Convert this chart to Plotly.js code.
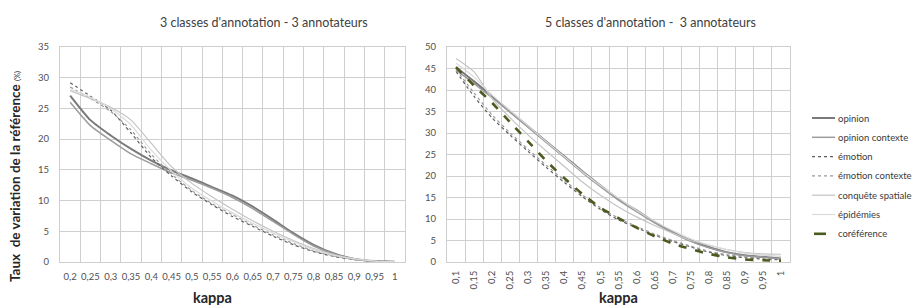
<!DOCTYPE html>
<html>
<head>
<meta charset="utf-8">
<script src="https://cdn.plot.ly/plotly-3.0.1.min.js"></script>
<style>html,body{margin:0;padding:0;background:#fff;}#chart{width:914px;height:305px;}</style>
</head>
<body>
<div id="chart"></div>
<script>
// ---- data ----
const kappaLeft = ["0,2","0,25","0,3","0,35","0,4","0,45","0,5","0,55","0,6","0,65","0,7","0,75","0,8","0,85","0,9","0,95","1"];
const kappaRight = ["0,1","0,15","0,2","0,25","0,3","0,35","0,4","0,45","0,5","0,55","0,6","0,65","0,7","0,75","0,8","0,85","0,9","0,95","1"];

// 3 classes - 3 annotateurs
const L_opinion          = [27.1,23.1,20.6,18.4,16.5,14.9,13.6,12.2,10.8,9.0,6.9,4.7,2.8,1.4,0.5,0.15,0.05];
const L_opinionContexte  = [26.0,22.2,19.8,17.6,16.0,14.5,13.3,12.0,10.5,8.7,6.6,4.5,2.6,1.3,0.5,0.15,0.05];
const L_emotion          = [29.2,27.0,24.7,21.0,17.0,14.0,11.4,9.3,7.4,5.8,4.2,2.8,1.7,0.9,0.4,0.15,0.05];
const L_emotionContexte  = [28.5,26.6,24.5,21.5,17.5,14.3,11.6,9.5,7.7,6.0,4.4,3.0,1.8,1.0,0.45,0.15,0.05];
const L_conquete         = [27.9,26.6,25.2,23.1,19.3,15.5,12.8,10.6,8.6,6.7,5.0,3.5,2.2,1.2,0.5,0.15,0.05];
const L_epidemies        = [28.2,26.8,25.0,22.3,18.2,14.8,12.0,9.9,8.0,6.3,4.7,3.3,2.0,1.1,0.5,0.15,0.05];

// 5 classes - 3 annotateurs
const R_opinion          = [45.3,42.0,38.5,35.0,31.5,28.0,24.6,21.1,17.8,14.6,12.0,9.3,7.0,5.0,3.5,2.3,1.55,1.2,0.8];
const R_opinionContexte  = [44.6,41.5,38.2,34.8,31.3,27.8,24.3,20.8,17.5,14.4,11.7,9.1,6.8,4.8,3.3,2.2,1.45,1.1,0.7];
const R_emotion          = [44.3,38.5,33.5,29.5,25.7,22.0,18.5,15.2,12.2,9.8,8.0,6.2,4.8,3.5,2.3,1.5,1.0,0.7,0.5];
const R_emotionContexte  = [44.8,39.3,34.2,30.0,26.2,22.5,19.0,15.6,12.6,10.2,8.3,6.5,5.0,3.7,2.5,1.7,1.2,0.9,0.7];
const R_conquete         = [47.3,44.2,38.0,33.5,29.5,25.8,22.2,18.6,15.5,12.8,10.5,8.5,6.7,5.0,3.9,2.9,2.2,1.9,1.8];
const R_epidemies        = [46.2,43.0,38.8,35.2,31.6,28.0,24.5,21.0,17.8,14.8,12.0,9.5,7.3,5.4,4.0,2.9,2.1,1.6,1.3];
const R_coreference      = [45.3,41.0,37.0,32.5,28.0,23.5,19.5,15.8,12.6,10.2,8.0,6.0,4.3,3.0,1.9,1.1,0.6,0.4,0.3];

const seriesNames = ["opinion","opinion contexte","émotion","émotion contexte","conquête spatiale","épidémies","coréférence"];
const leftTitle = "3 classes d'annotation - 3 annotateurs";
const rightTitle = "5 classes d'annotation -\u00a0 3 annotateurs";
const yTitle = "Taux\u00a0 de variation de la référence";
const xTitle = "kappa";

// ---- styles ----
const FONT = "Lato, 'Open Sans', sans-serif";
const styles = {
  "opinion":           {color:"#7a7a7a", width:2.0, dash:"solid"},
  "opinion contexte":  {color:"#9c9c9c", width:1.5, dash:"solid"},
  "émotion":           {color:"#5e5e5e", width:1.2, dash:"dot"},
  "émotion contexte":  {color:"#9a9a9a", width:1.2, dash:"dot"},
  "conquête spatiale": {color:"#c4c4c4", width:1.2, dash:"solid"},
  "épidémies":         {color:"#dadada", width:1.2, dash:"solid"},
  "coréférence":       {color:"#4b5a1e", width:2.6, dash:"8px,9px"}
};

function tr(x, y, name, xa, ya) {
  const s = styles[name];
  return {x:x, y:y, name:name, type:"scatter", mode:"lines", xaxis:xa, yaxis:ya,
    line:{color:s.color, width:s.width, dash:s.dash, shape:"spline", smoothing:0.6},
    showlegend:false, hoverinfo:"skip"};
}

const data = [
  tr(kappaLeft, L_opinion, seriesNames[0], "x", "y"),
  tr(kappaLeft, L_opinionContexte, seriesNames[1], "x", "y"),
  tr(kappaLeft, L_emotion, seriesNames[2], "x", "y"),
  tr(kappaLeft, L_emotionContexte, seriesNames[3], "x", "y"),
  tr(kappaLeft, L_conquete, seriesNames[4], "x", "y"),
  tr(kappaLeft, L_epidemies, seriesNames[5], "x", "y"),
  tr(kappaRight, R_opinion, seriesNames[0], "x2", "y2"),
  tr(kappaRight, R_opinionContexte, seriesNames[1], "x2", "y2"),
  tr(kappaRight, R_emotion, seriesNames[2], "x2", "y2"),
  tr(kappaRight, R_emotionContexte, seriesNames[3], "x2", "y2"),
  tr(kappaRight, R_conquete, seriesNames[4], "x2", "y2"),
  tr(kappaRight, R_epidemies, seriesNames[5], "x2", "y2"),
  tr(kappaRight, R_coreference, seriesNames[6], "x2", "y2")
];

const W = 914, H = 305, TOP = 47, BOT = 262;
const py = p => (BOT - p) / (BOT - TOP);   // pixel row -> paper y
const px = p => p / W;                      // pixel column -> paper x
const gridC = "#cfcfcf";
const tickFont = {family:FONT, size:9.5, color:"#505050"};

function xax(dom, cats, angle) {
  return {domain:dom, type:"category", categoryorder:"array", categoryarray:cats,
    range:[-0.5, cats.length-0.5], tickson:"boundaries", showgrid:true, gridcolor:gridC, gridwidth:1,
    showline:true, linecolor:gridC, linewidth:1, mirror:true, ticks:"", tickangle:angle,
    tickfont:tickFont, zeroline:false, fixedrange:true, automargin:false, ticklabelstandoff:angle===0?6:4};
}
function yax(anchor, max) {
  return {anchor:anchor, range:[0,max], dtick:5, tick0:0, showgrid:true, gridcolor:gridC, gridwidth:1,
    showline:true, linecolor:gridC, mirror:true, zeroline:false, ticks:"", tickfont:tickFont,
    fixedrange:true, automargin:false, ticklabelstandoff:8};
}

// hand-built legend (line sample + label), so it never pushes the margins
const legendShapes = [], legendLabels = [];
seriesNames.forEach((n, i) => {
  const s = styles[n];
  const yy = py(118 + 19.3 * i);
  const isCoref = n === "coréférence";
  legendShapes.push({type:"line", xref:"paper", yref:"paper", x0:px(isCoref ? 814 : 812), x1:px(isCoref ? 826 : 835), y0:yy, y1:yy,
    line:{color:s.color, width:s.width, dash:isCoref ? "solid" : s.dash}});
  legendLabels.push({text:n, xref:"paper", yref:"paper", x:px(836), y:yy, xanchor:"left", yanchor:"middle", showarrow:false,
    font:{family:FONT, size:9.5, color:"#3a3a3a"}});
});

const layout = {
  width:W, height:H, margin:{l:0, r:0, t:TOP, b:H-BOT}, paper_bgcolor:"#fff", plot_bgcolor:"#fff",
  font:{family:FONT, color:"#404040"},
  xaxis: Object.assign(xax([60/W, 405/W], kappaLeft, 0), {anchor:"y"}),
  yaxis: yax("x", 35),
  xaxis2: Object.assign(xax([447/W, 790/W], kappaRight, -90), {anchor:"y2"}),
  yaxis2: yax("x2", 50),
  showlegend:false,
  shapes: legendShapes,
  annotations:[
    {text:leftTitle, xref:"paper", yref:"paper", x:px(264), y:py(22), showarrow:false, font:{family:FONT, size:12.5, color:"#404040"}, xanchor:"center", yanchor:"middle"},
    {text:rightTitle, xref:"paper", yref:"paper", x:px(650), y:py(22), showarrow:false, font:{family:FONT, size:12.5, color:"#404040"}, xanchor:"center", yanchor:"middle"},
    {text:"<b>"+yTitle+"</b> <span style='font-size:7.5px'>(%)</span>", xref:"paper", yref:"paper", x:px(15), y:py(177), textangle:-90, showarrow:false, font:{family:FONT, size:13.5, color:"#262626"}, xanchor:"center", yanchor:"middle"},
    {text:"<b>"+xTitle+"</b>", xref:"paper", yref:"paper", x:px(212), y:py(297), showarrow:false, font:{family:FONT, size:14.5, color:"#262626"}, xanchor:"center", yanchor:"middle"},
    {text:"<b>"+xTitle+"</b>", xref:"paper", yref:"paper", x:px(618), y:py(297), showarrow:false, font:{family:FONT, size:14.5, color:"#262626"}, xanchor:"center", yanchor:"middle"}
  ].concat(legendLabels)
};

Plotly.newPlot("chart", data, layout, {staticPlot:true, displayModeBar:false});
</script>
</body>
</html>
